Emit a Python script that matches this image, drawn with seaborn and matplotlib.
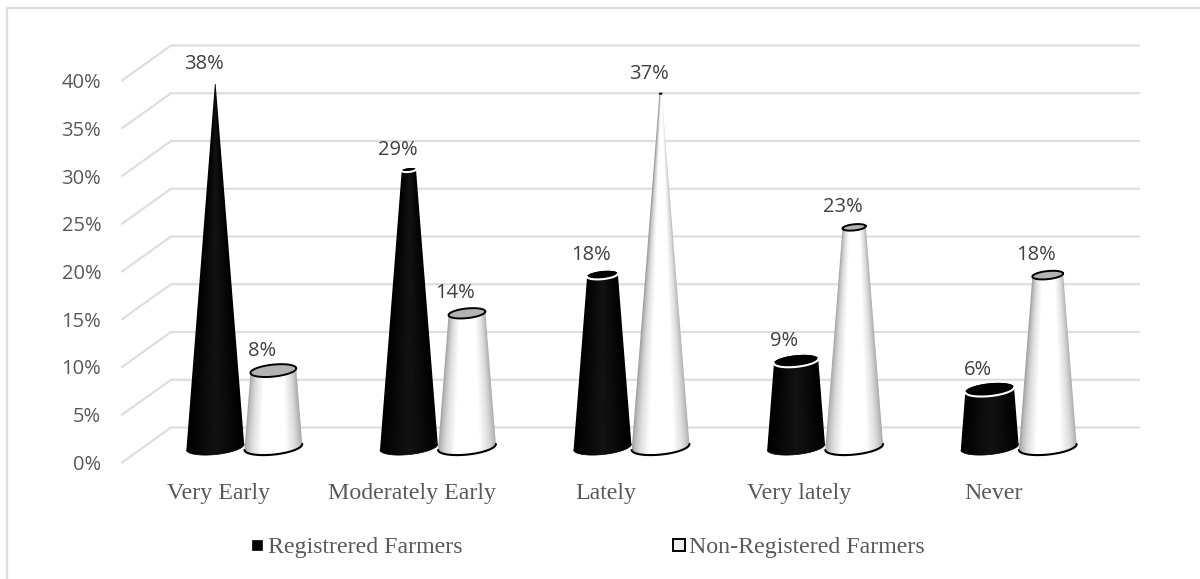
import numpy as np
import pandas as pd
import matplotlib
matplotlib.use("Agg")
import matplotlib.pyplot as plt
from matplotlib.lines import Line2D
from matplotlib.patches import Polygon
import seaborn as sns

categories = ["Very Early", "Moderately Early", "Lately", "Very lately", "Never"]
registered = [38, 29, 18, 9, 6]
non_registered = [8, 14, 37, 23, 18]
series_names = ["Registrered Farmers", "Non-Registered Farmers"]
y_ticks = [0, 5, 10, 15, 20, 25, 30, 35, 40]

W, H = 1200, 579
sns.set_theme(style="white")
plt.rcParams["font.family"] = ["Open Sans", "DejaVu Sans"]
SERIF = "Liberation Serif"
GREY = "#595959"
GRID = "#dedede"

fig = plt.figure(figsize=(W / 100, H / 100), dpi=100, facecolor="white")
ax = fig.add_axes([122 / W, 1 - 462.5 / H, 968 / W, 382 / H])

df = pd.DataFrame({
    "category": categories * 2,
    "value": registered + non_registered,
    "series": [series_names[0]] * 5 + [series_names[1]] * 5,
})
sns.barplot(data=df, x="category", y="value", hue="series", order=categories,
            hue_order=series_names, palette=["black", "white"], width=0.6, gap=0,
            legend=False, ax=ax, zorder=3)
ax.set_xlim(-0.5, 4.5)
ax.set_ylim(0, 40)
ax.set_xlabel("")
ax.set_ylabel("")
sns.despine(ax=ax, left=True, bottom=True)
ax.patch.set_alpha(0)

PX_X = 968 / 5      # pixels per category
PX_Y = 382 / 40     # pixels per percent
depth_x = 49 / PX_X
depth_y = 35 / PX_Y

# gridlines on the floor-wall construction of the 3D plot
for v in y_ticks:
    ax.plot([-0.5, -0.5 + depth_x, 4.5 + depth_x], [v, v + depth_y, v + depth_y],
            color=GRID, lw=1.6, clip_on=False, zorder=1, solid_joinstyle="miter")

ax.set_yticks(y_ticks)
ax.set_yticklabels([f"{v}%" for v in y_ticks], color=GREY, fontsize=14.5)
ax.tick_params(axis="y", length=0, pad=15)
ax.tick_params(axis="x", length=0, pad=15)
for lab in ax.get_xticklabels():
    lab.set_fontfamily(SERIF)
    lab.set_fontsize(17.2)
    lab.set_color(GREY)

white_stops = ([0, .05, .14, .30, .70, .86, .95, 1],
               [.62, .74, .87, 1, 1, .87, .74, .64])
black_stops = ([0, .5, 1], [0, .075, 0])
MAX_V = 38.5
BAR_DX = 25.5 / PX_X
BAR_DY = 15.5 / PX_Y
TILT = np.deg2rad(6)


def ellipse(cx, y, a_px, t):
    b_px = 0.26 * a_px
    ex = a_px * np.cos(t)
    ey = b_px * np.sin(t)
    px = ex * np.cos(TILT) - ey * np.sin(TILT)
    py = ex * np.sin(TILT) + ey * np.cos(TILT)
    return cx + px / PX_X, y + py / PX_Y


bars = [p for p in ax.patches]
order = np.argsort([p.get_x() for p in bars])
for idx in order:
    bar = bars[idx]
    v = bar.get_height()
    mid = bar.get_x() + bar.get_width() / 2
    cx = mid + BAR_DX
    is_white = mid > round(mid)
    base_a = bar.get_width() * PX_X / 2
    top_a = base_a * (1 - v / MAX_V)
    y0 = BAR_DY
    y1 = BAR_DY + v
    bar.set_visible(False)

    tb = np.linspace(np.pi, 2 * np.pi, 40)
    tt = np.linspace(0, np.pi, 40)
    bx, by = ellipse(cx, y0, base_a, tb)
    ux, uy = ellipse(cx, y1, top_a, tt)
    outline = np.column_stack([np.r_[bx, ux], np.r_[by, uy]])
    clip = Polygon(outline, closed=True, transform=ax.transData, fc="none", ec="none")
    ax.add_patch(clip)

    # conical shading
    rows, cols = 240, 120
    ys = np.linspace(y0 - 1.2, y1 + 1, rows)
    xs = np.linspace(-1, 1, cols)
    frac = np.clip(1 - (ys - y0) / MAX_V, 0.005, 1)
    u = 0.5 + np.outer(1 / frac, xs) / 2
    stops = white_stops if is_white else black_stops
    img = np.interp(np.clip(u, 0, 1), stops[0], stops[1])
    half = base_a / PX_X
    im = ax.imshow(img, cmap="gray", vmin=0, vmax=1, origin="lower", aspect="auto",
                   extent=(cx - half, cx + half, ys[0], ys[-1]), zorder=3,
                   interpolation="bilinear", clip_on=True)
    im.set_clip_path(clip)

    # bottom rim
    ax.plot(bx, by, color="black", lw=1.5 if is_white else 0.5, zorder=4, clip_on=False,
            solid_capstyle="round")
    # top cap
    t_all = np.linspace(0, 2 * np.pi, 80)
    cx_t, cy_t = ellipse(cx, y1, top_a, t_all)
    ax.fill(cx_t, cy_t, color="#b3b3b3" if is_white else "black", zorder=4, lw=0)
    if is_white:
        ax.plot(cx_t, cy_t, color="black", lw=1.4 if top_a > 4 else 1.0, zorder=5)
    else:
        fx, fy = ellipse(cx, y1, top_a, np.linspace(np.pi, 2 * np.pi, 40))
        if top_a > 3:
            ax.plot(fx, fy, color="white", lw=1.5, zorder=5)

    ax.annotate(f"{v:.0f}%", xy=(cx, y1), xytext=(-11.5 * 0.72, 20 * 0.72),
                textcoords="offset points", ha="center", va="center",
                fontsize=14.5, color="#404040", zorder=6, annotation_clip=False)

ax.set_xlim(-0.5, 4.5)
ax.set_ylim(0, 40)

handles = [
    Line2D([], [], ls="", marker="s", ms=7, mfc="black", mec="black", mew=0.5),
    Line2D([], [], ls="", marker="s", ms=8.5, mfc="#eeeeee", mec="black", mew=1.4),
]
fig.legend(handles, series_names, ncol=2, frameon=False, loc="center",
           bbox_to_anchor=(588 / W, 1 - 547 / H),
           prop={"family": SERIF, "size": 17.2}, labelcolor=GREY,
           handlelength=0.5, handletextpad=0.2, columnspacing=8.8)

fig.add_artist(Line2D([7 / W, 7 / W, 1], [0, 1 - 8 / H, 1 - 8 / H],
                      transform=fig.transFigure, color=GRID, lw=1.6,
                      solid_joinstyle="miter"))

fig.savefig("out.png", dpi=100, facecolor="white")
